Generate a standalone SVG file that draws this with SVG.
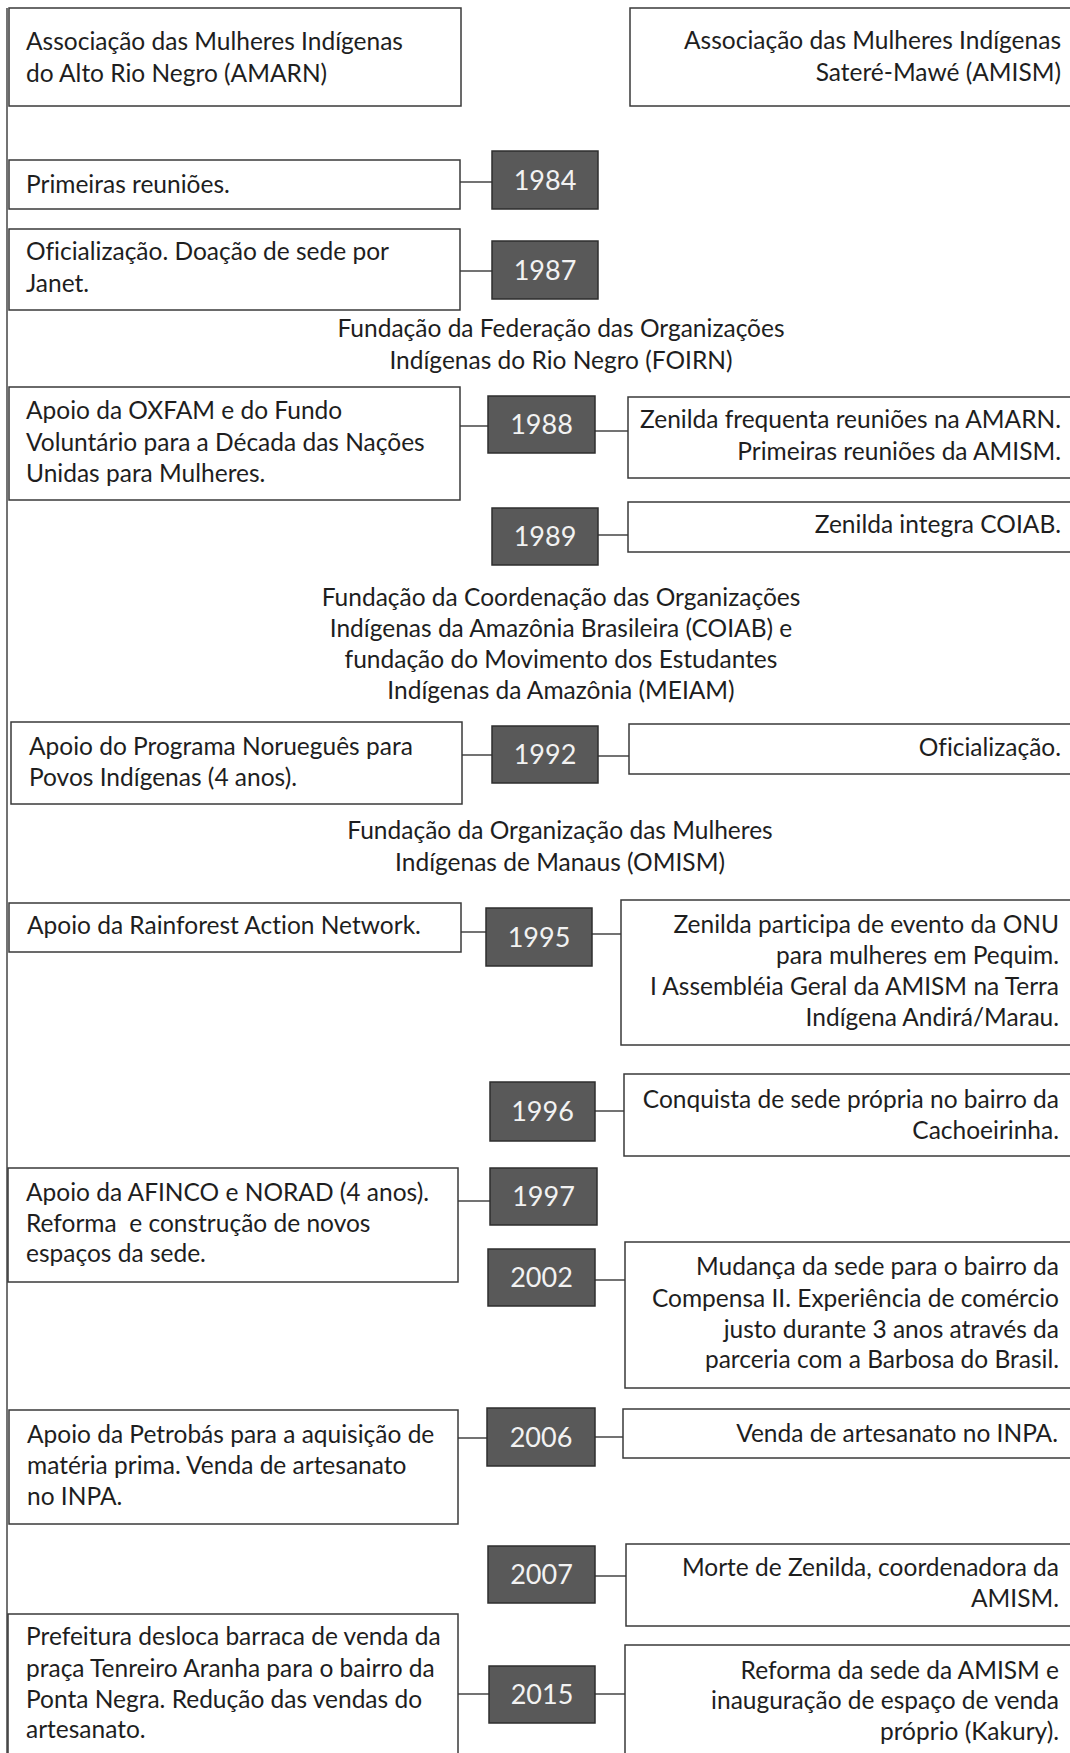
<svg xmlns="http://www.w3.org/2000/svg" width="1070" height="1753" viewBox="0 0 1070 1753">
<style>
.box{fill:#fff;stroke:#3a3a3a;stroke-width:1.5}
.yr{fill:#595959;stroke:#2e2e2e;stroke-width:1.5}
.t{font-family:Lato,"Liberation Sans",sans-serif;font-size:24.5px;fill:#1e1e1e;font-variant-ligatures:none}
.r{text-anchor:end}
.c{text-anchor:middle}
.y{font-family:Lato,"Liberation Sans",sans-serif;font-size:27px;fill:#f2f2f2;text-anchor:middle}
.ln{stroke:#444;stroke-width:1.5;fill:none}
</style>
<rect width="1070" height="1753" fill="#fff"/>
<g id="connectors">
<line class="ln" x1="7" y1="8" x2="7" y2="1753"/>
<line class="ln" x1="460" y1="182" x2="492" y2="182"/>
<line class="ln" x1="460" y1="271" x2="492" y2="271"/>
<line class="ln" x1="460" y1="426" x2="488" y2="426"/>
<line class="ln" x1="462" y1="755" x2="492" y2="755"/>
<line class="ln" x1="461" y1="932" x2="486" y2="932"/>
<line class="ln" x1="458" y1="1201" x2="490" y2="1201"/>
<line class="ln" x1="458" y1="1438" x2="487" y2="1438"/>
<line class="ln" x1="458" y1="1694" x2="489" y2="1694"/>
<line class="ln" x1="595" y1="431" x2="628" y2="431"/>
<line class="ln" x1="598" y1="535" x2="628" y2="535"/>
<line class="ln" x1="598" y1="756" x2="629" y2="756"/>
<line class="ln" x1="592" y1="934" x2="621" y2="934"/>
<line class="ln" x1="595" y1="1111" x2="624" y2="1111"/>
<line class="ln" x1="595" y1="1280" x2="625" y2="1280"/>
<line class="ln" x1="595" y1="1437" x2="623" y2="1437"/>
<line class="ln" x1="595" y1="1576" x2="626" y2="1576"/>
<line class="ln" x1="595" y1="1694" x2="625" y2="1694"/>
</g>
<g id="amarn-header"><rect class="box" x="9" y="8" width="452" height="98"/>
<text class="t" x="26" y="50">Associação das Mulheres Indígenas</text>
<text class="t" x="26" y="82">do Alto Rio Negro (AMARN)</text></g>
<g id="amism-header"><rect class="box" x="630" y="8" width="445" height="98"/>
<text class="t r" x="1061" y="49">Associação das Mulheres Indígenas</text>
<text class="t r" x="1061" y="81">Sateré-Mawé (AMISM)</text></g>

<g id="l1984"><rect class="box" x="9" y="160" width="451" height="49"/>
<text class="t" x="26" y="193">Primeiras reuniões.</text></g>
<g id="y1984"><rect class="yr" x="492" y="151" width="106" height="58"/><text class="y" x="545" y="190">1984</text></g>

<g id="l1987"><rect class="box" x="9" y="229" width="451" height="81"/>
<text class="t" x="26" y="260">Oficialização. Doação de sede por</text>
<text class="t" x="26" y="292">Janet.</text></g>
<g id="y1987"><rect class="yr" x="492" y="241" width="106" height="58"/><text class="y" x="545" y="280">1987</text></g>

<g id="foirn"><text class="t c" x="561" y="337">Fundação da Federação das Organizações</text>
<text class="t c" x="561" y="369">Indígenas do Rio Negro (FOIRN)</text></g>

<g id="l1988"><rect class="box" x="9" y="387" width="451" height="113"/>
<text class="t" x="26" y="419">Apoio da OXFAM e do Fundo</text>
<text class="t" x="26" y="451">Voluntário para a Década das Nações</text>
<text class="t" x="26" y="482">Unidas para Mulheres.</text></g>
<g id="y1988"><rect class="yr" x="488" y="396" width="107" height="57"/><text class="y" x="541.5" y="434">1988</text></g>
<g id="r1988"><rect class="box" x="628" y="397" width="447" height="81"/>
<text class="t r" x="1061" y="428">Zenilda frequenta reuniões na AMARN.</text>
<text class="t r" x="1061" y="460">Primeiras reuniões da AMISM.</text></g>

<g id="y1989"><rect class="yr" x="492" y="508" width="106" height="57"/><text class="y" x="545" y="546">1989</text></g>
<g id="r1989"><rect class="box" x="628" y="502" width="447" height="50"/>
<text class="t r" x="1061" y="533">Zenilda integra COIAB.</text></g>

<g id="coiab"><text class="t c" x="561" y="606">Fundação da Coordenação das Organizações</text>
<text class="t c" x="561" y="637">Indígenas da Amazônia Brasileira (COIAB) e</text>
<text class="t c" x="561" y="668">fundação do Movimento dos Estudantes</text>
<text class="t c" x="561" y="699">Indígenas da Amazônia (MEIAM)</text></g>

<g id="l1992"><rect class="box" x="11" y="722" width="451" height="82"/>
<text class="t" x="29" y="755">Apoio do Programa Norueguês para</text>
<text class="t" x="29" y="786">Povos Indígenas (4 anos).</text></g>
<g id="y1992"><rect class="yr" x="492" y="726" width="106" height="57"/><text class="y" x="545" y="764">1992</text></g>
<g id="r1992"><rect class="box" x="629" y="724" width="446" height="50"/>
<text class="t r" x="1061" y="756">Oficialização.</text></g>

<g id="omism"><text class="t c" x="560" y="839">Fundação da Organização das Mulheres</text>
<text class="t c" x="560" y="871">Indígenas de Manaus (OMISM)</text></g>

<g id="l1995"><rect class="box" x="9" y="903" width="452" height="49"/>
<text class="t" x="27" y="934">Apoio da Rainforest Action Network.</text></g>
<g id="y1995"><rect class="yr" x="486" y="908" width="106" height="58"/><text class="y" x="539" y="947">1995</text></g>
<g id="r1995"><rect class="box" x="621" y="900" width="454" height="145"/>
<text class="t r" x="1059" y="933">Zenilda participa de evento da ONU</text>
<text class="t r" x="1059" y="964">para mulheres em Pequim.</text>
<text class="t r" x="1059" y="995">I Assembléia Geral da AMISM na Terra</text>
<text class="t r" x="1059" y="1026">Indígena Andirá/Marau.</text></g>

<g id="y1996"><rect class="yr" x="490" y="1082" width="105" height="59"/><text class="y" x="542.5" y="1121">1996</text></g>
<g id="r1996"><rect class="box" x="624" y="1074" width="451" height="82"/>
<text class="t r" x="1059" y="1108">Conquista de sede própria no bairro da</text>
<text class="t r" x="1059" y="1139">Cachoeirinha.</text></g>

<g id="l1997"><rect class="box" x="8" y="1168" width="450" height="114"/>
<text class="t" x="26" y="1201">Apoio da AFINCO e NORAD (4 anos).</text>
<text class="t" x="26" y="1232" xml:space="preserve">Reforma  e construção de novos</text>
<text class="t" x="26" y="1262">espaços da sede.</text></g>
<g id="y1997"><rect class="yr" x="490" y="1168" width="107" height="57"/><text class="y" x="543.5" y="1206">1997</text></g>

<g id="y2002"><rect class="yr" x="488" y="1249" width="107" height="57"/><text class="y" x="541.5" y="1287">2002</text></g>
<g id="r2002"><rect class="box" x="625" y="1242" width="450" height="146"/>
<text class="t r" x="1059" y="1275">Mudança da sede para o bairro da</text>
<text class="t r" x="1059" y="1307">Compensa II. Experiência de comércio</text>
<text class="t r" x="1059" y="1338">justo durante 3 anos através da</text>
<text class="t r" x="1059" y="1368">parceria com a Barbosa do Brasil.</text></g>

<g id="l2006"><rect class="box" x="9" y="1410" width="449" height="114"/>
<text class="t" x="27" y="1443">Apoio da Petrobás para a aquisição de</text>
<text class="t" x="27" y="1474">matéria prima. Venda de artesanato</text>
<text class="t" x="27" y="1505">no INPA.</text></g>
<g id="y2006"><rect class="yr" x="487" y="1408" width="108" height="58"/><text class="y" x="541" y="1447">2006</text></g>
<g id="r2006"><rect class="box" x="623" y="1409" width="452" height="49"/>
<text class="t r" x="1058" y="1442">Venda de artesanato no INPA.</text></g>

<g id="y2007"><rect class="yr" x="488" y="1546" width="107" height="57"/><text class="y" x="541.5" y="1584">2007</text></g>
<g id="r2007"><rect class="box" x="626" y="1544" width="449" height="82"/>
<text class="t r" x="1059" y="1576">Morte de Zenilda, coordenadora da</text>
<text class="t r" x="1059" y="1607">AMISM.</text></g>

<g id="l2015"><rect class="box" x="8" y="1614" width="450" height="150"/>
<text class="t" x="26" y="1645">Prefeitura desloca barraca de venda da</text>
<text class="t" x="26" y="1677">praça Tenreiro Aranha para o bairro da</text>
<text class="t" x="26" y="1708">Ponta Negra. Redução das vendas do</text>
<text class="t" x="26" y="1738">artesanato.</text></g>
<g id="y2015"><rect class="yr" x="489" y="1666" width="106" height="57"/><text class="y" x="542" y="1704">2015</text></g>
<g id="r2015"><rect class="box" x="625" y="1645" width="450" height="120"/>
<text class="t r" x="1059" y="1679">Reforma da sede da AMISM e</text>
<text class="t r" x="1059" y="1709">inauguração de espaço de venda</text>
<text class="t r" x="1059" y="1740">próprio (Kakury).</text></g>
</svg>
